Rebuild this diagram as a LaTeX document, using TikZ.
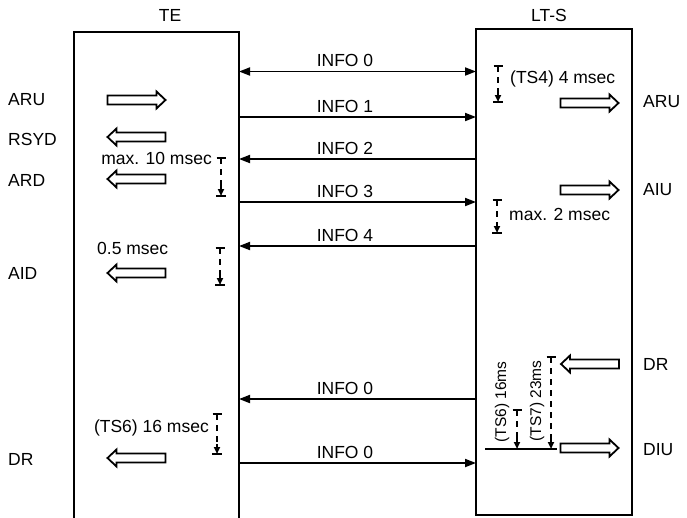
\documentclass[tikz,border=0pt]{standalone}
\usepackage{fontspec}
\setmainfont{Liberation Sans}
\usetikzlibrary{arrows.meta}
\tikzset{
  lbl/.style={font=\fontsize{17.5}{20}\selectfont, inner sep=0pt},
  rlbl/.style={font=\fontsize{15.5}{17}\selectfont, inner sep=0pt, rotate=90},
  wire/.style={line width=1.9pt},
  tipR/.style={-{Triangle[length=11pt,width=8pt]}},
  tipB/.style={{Triangle[length=11pt,width=8pt]}-{Triangle[length=11pt,width=8pt]}},
  tmdash/.style={line width=1.8pt, dash pattern=on 6pt off 5pt},
  tmend/.style={line width=1.9pt},
  tmtip/.style={line width=1.8pt, -{Triangle[length=7pt,width=6pt]}},
  blockarrow/.pic={
    \draw[line width=1.8pt, line join=miter] (-29,-4.5) -- (20,-4.5) -- (20,-8.5) -- (29,0) -- (20,8.5) -- (20,4.5) -- (-29,4.5) -- cycle;
  }
}
\newcommand{\tmark}[4]{% name, x, ytop, ybot
  \coordinate (#1t) at (#2,#3);
  \coordinate (#1b) at (#2,#4);
  \draw[tmdash] (#1t) -- ([yshift=8pt]#1b);
  \draw[tmend] ([xshift=-4.5pt]#1t) -- ([xshift=4.5pt]#1t);
  \draw[tmtip] ([yshift=10pt]#1b) -- (#1b);
  \draw[tmend] ([xshift=-5pt]#1b) -- ([xshift=5pt]#1b);
}
\begin{document}
\begin{tikzpicture}[x=1pt,y=-1pt]
\useasboundingbox (0,0) rectangle (687,517);
\clip (0,0) rectangle (687,517);

% boxes
\node[minimum width=165pt, minimum height=520pt, inner sep=0pt, outer sep=0pt, anchor=north west] (TE) at (74,32) {};
\draw[wire] (TE.south west) -- (TE.north west) -- (TE.north east) -- (TE.south east);
\node[draw, line width=1.9pt, minimum width=156pt, minimum height=486pt, inner sep=0pt, outer sep=0pt, anchor=north west] (LTS) at (476,29) {};

\node[lbl] (tTE) at (170,15) {TE};
\node[lbl] (tLTS) at (549,15) {LT-S};

% INFO connectors
\draw[wire, tipB] (TE.east |- 0,71.5) -- (LTS.west |- 0,71.5);
\draw[wire, tipR] (TE.east |- 0,117) -- (LTS.west |- 0,117);
\draw[wire, tipR] (LTS.west |- 0,159) -- (TE.east |- 0,159);
\draw[wire, tipR] (TE.east |- 0,202) -- (LTS.west |- 0,202);
\draw[wire, tipR] (LTS.west |- 0,246) -- (TE.east |- 0,246);
\draw[wire, tipR] (LTS.west |- 0,399) -- (TE.east |- 0,399);
\draw[wire, tipR] (TE.east |- 0,463) -- (LTS.west |- 0,463);

\node[lbl, anchor=south] (i0) at (345,67) {INFO 0};
\node[lbl, anchor=south] (i1) at (345,112.5) {INFO 1};
\node[lbl, anchor=south] (i2) at (345,154.5) {INFO 2};
\node[lbl, anchor=south] (i3) at (345,197.5) {INFO 3};
\node[lbl, anchor=south] (i4) at (345,241.5) {INFO 4};
\node[lbl, anchor=south] (i5) at (345,394.5) {INFO 0};
\node[lbl, anchor=south] (i6) at (345,458.5) {INFO 0};

% left labels
\node[lbl, anchor=west] (lARU) at (8,100) {ARU};
\node[lbl, anchor=west] (lRSYD) at (8,139) {RSYD};
\node[lbl, anchor=west] (lARD) at (8,180) {ARD};
\node[lbl, anchor=west] (lAID) at (8,273) {AID};
\node[lbl, anchor=west] (lDR) at (8,459) {DR};

% right labels
\node[lbl, anchor=west] (rARU) at (643,102) {ARU};
\node[lbl, anchor=west] (rAIU) at (643,190) {AIU};
\node[lbl, anchor=west] (rDR) at (643,364) {DR};
\node[lbl, anchor=west] (rDIU) at (643,450) {DIU};

% block arrows left
\pic at (136.5,100) {blockarrow};
\pic[xscale=-1] at (136.5,137) {blockarrow};
\pic[xscale=-1] at (136.5,179) {blockarrow};
\pic[xscale=-1] at (136.5,273) {blockarrow};
\pic[xscale=-1] at (136.5,458) {blockarrow};

% block arrows right
\pic at (589.5,103) {blockarrow};
\pic at (589.5,190) {blockarrow};
\pic[xscale=-1] at (590,364) {blockarrow};
\pic at (589.5,448) {blockarrow};

% timing markers
\tmark{m1}{498}{66}{102}
\node[lbl, anchor=west] (tm1) at (510,79) {(TS4) 4 msec};
\tmark{m2}{221}{158}{196}
\node[lbl, anchor=east] (tm2) at (212,158) {max. 10 msec};
\tmark{m3}{497}{200}{233}
\node[lbl, anchor=west] (tm3) at (509,214) {max. 2 msec};
\tmark{m4}{220}{248}{285}
\node[lbl, anchor=west] (tm4) at (97,248) {0.5 msec};
\tmark{m5}{217}{414}{454}
\node[lbl, anchor=east] (tm5) at (209,428) {(TS6) 16 msec};

% LT-S disconnect timing
\coordinate (hl) at (485,449);
\coordinate (hr) at (557,449);
\draw[tmend] (hl) -- (hr);
\coordinate (t6t) at (517,410);
\coordinate (t6b) at (517,449);
\coordinate (t7t) at (551,357);
\coordinate (t7b) at (551,449);
\draw[tmdash] (t6t) -- ([yshift=9pt]t6b);
\draw[tmend] ([xshift=-4.5pt]t6t) -- ([xshift=4.5pt]t6t);
\draw[tmtip] ([yshift=11pt]t6b) -- (t6b);
\draw[tmdash] (t7t) -- ([yshift=9pt]t7b);
\draw[tmend] ([xshift=-4.5pt]t7t) -- ([xshift=4.5pt]t7t);
\draw[tmtip] ([yshift=11pt]t7b) -- (t7b);
\node[rlbl] (r6) at (502,402) {(TS6) 16ms};
\node[rlbl] (r7) at (537,401) {(TS7) 23ms};
\end{tikzpicture}
\end{document}
